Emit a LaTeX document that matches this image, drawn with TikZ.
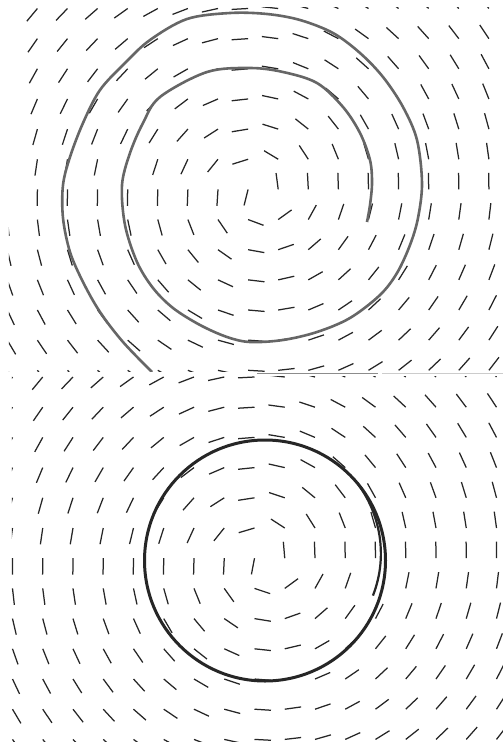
\documentclass[tikz,border=0pt]{standalone}
\begin{document}
\begin{tikzpicture}[x=1pt,y=-1pt,line cap=butt,
  fielddash/.style={line width=1.25pt,black!85},
  spiralcurve/.style={line width=2.6pt,black!60,line join=round},
  cyclecurve/.style={line width=3pt,black!85},
  cyclepass/.style={line width=2.2pt,black!85},
  divider/.style={line width=1pt}]
\useasboundingbox (0,0) rectangle (503,742);
\fill[white] (0,0) rectangle (503,742);
% ---------- top panel: direction field ----------
\begin{scope}
\clip (8.8,7.6) rectangle (503,371.6);
\foreach \j in {0,...,12}{
  \foreach \k in {0,...,16}{
    \pgfmathsetmacro\XX{7.3+30.1*\k}
    \pgfmathsetmacro\YY{8.5+30.15*\j}
    \pgfmathsetmacro\ddx{(\XX-258.4)/100}
    \pgfmathsetmacro\ddy{(\YY-192)/100}
    \pgfmathsetmacro\rr{sqrt(\ddx*\ddx+\ddy*\ddy)}
    \draw[fielddash] (\XX,\YY) -- ++({16.5*\ddy/\rr},{-16.5*\ddx/\rr});
  }
}
% spiral trajectory
\draw[spiralcurve] plot[smooth,tension=0.55] coordinates {
 (152,372) (123,342) (100,312) (83,282) (70,252) (63,218) (63,185)
 (70,157) (83,123) (100,90) (125,63) (150,40) (187,19) (230,13)
 (267,14) (300,20) (333,33) (360,53) (383,77) (403,107) (417,140)
 (422,183) (418,218) (410,245) (397,273) (380,295) (350,318)
 (317,332) (283,340) (250,342) (227,337) (200,325) (173,308)
 (153,288) (137,262) (125,225) (122,185) (130,153) (143,123)
 (160,97) (207,72) (250,68) (283,72) (317,83) (343,107) (360,133)
 (370,160) (372,183) (370,205) (367,222)};
\end{scope}
% divider lines
\draw[divider,black!45] (257,373.6) -- (378,373.6);
\draw[divider,black!20] (382,373.6) -- (503,373.6);
% ---------- bottom panel: direction field ----------
\begin{scope}
\clip (11.8,376) rectangle (503,742);
\foreach \j in {0,...,12}{
  \foreach \k in {0,...,16}{
    \pgfmathsetmacro\XX{12.5+30.25*\k}
    \pgfmathsetmacro\YY{377+30.2*\j}
    \pgfmathsetmacro\ddx{(\XX-264)/100}
    \pgfmathsetmacro\ddy{(\YY-560)/100}
    \pgfmathsetmacro\rr{sqrt(\ddx*\ddx+\ddy*\ddy)}
    \draw[fielddash] (\XX,\YY) -- ++({16.5*\ddy/\rr},{-16.5*\ddx/\rr});
  }
}
% closed trajectory (limit cycle)
\draw[cyclecurve] (265,560.5) circle[radius=120.5];
\draw[cyclepass] plot[smooth,domain=-18:40,samples=30,variable=\t]
  ({265+(113.5+7*(\t+18)/58)*cos(\t)},{560.5-(113.5+7*(\t+18)/58)*sin(\t)});
\end{scope}
\end{tikzpicture}
\end{document}
